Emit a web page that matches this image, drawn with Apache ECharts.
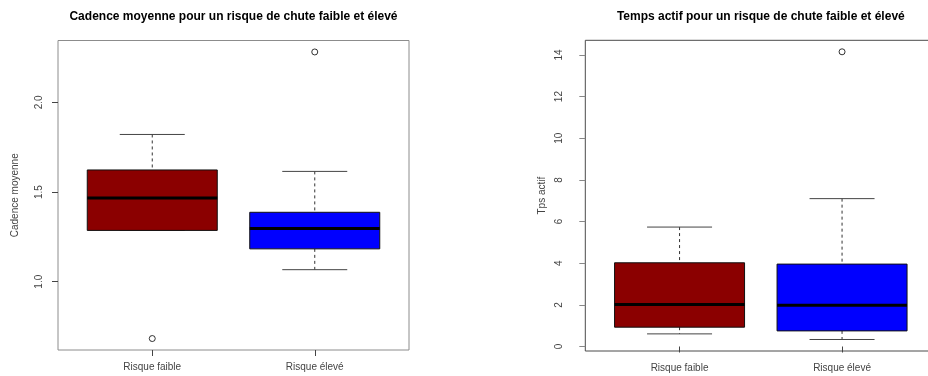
<!DOCTYPE html>
<html>
<head>
<meta charset="utf-8">
<script src="https://cdn.jsdelivr.net/npm/echarts@6/dist/echarts.min.js"></script>
<style>
html,body{margin:0;padding:0;background:#fff}
#chart{width:928px;height:376px}
</style>
</head>
<body>
<div id="chart"></div>
<script>
var categories = ['Risque faible', 'Risque élevé'];
// [x, bas, Q1, mediane, Q3, haut]
var cadenceBoxes = [
    [1, 1.286, 1.286, 1.466, 1.623, 1.821],
    [2, 1.067, 1.183, 1.297, 1.387, 1.615]
];
var cadenceOutliers = [[1, 0.683], [2, 2.281]];
var tempsBoxes = [
    [1, 0.606, 0.928, 2.02, 4.02, 5.735],
    [2, 0.337, 0.75, 1.986, 3.957, 7.10]
];
var tempsOutliers = [[2, 14.15]];
var cadenceTicks = [1.0, 1.5, 2.0];
var tempsTicks = [0, 2, 4, 6, 8, 10, 12, 14];
var boxColors = ['#8b0000', '#0000ff'];

var chart = echarts.init(document.getElementById('chart'));

// etendue a la maniere de R : +4% de chaque cote
function rRange(boxes, outliers) {
    var lo = Infinity, hi = -Infinity;
    boxes.forEach(function (b) {
        lo = Math.min(lo, b[1]); hi = Math.max(hi, b[5]);
    });
    outliers.forEach(function (o) {
        lo = Math.min(lo, o[1]); hi = Math.max(hi, o[1]);
    });
    var pad = (hi - lo) * 0.04;
    return [lo - pad, hi + pad];
}
var cadRange = rRange(cadenceBoxes, cadenceOutliers);
var tpsRange = rRange(tempsBoxes, tempsOutliers);

function renderBox(params, api) {
    var x = api.value(0);
    var low = api.coord([x, api.value(1)]);
    var q1 = api.coord([x, api.value(2)]);
    var med = api.coord([x, api.value(3)]);
    var q3 = api.coord([x, api.value(4)]);
    var high = api.coord([x, api.value(5)]);
    var w = api.size([0.8, 0])[0];
    var cx = low[0];
    var dash = {stroke: '#333', lineWidth: 1, lineDash: [3, 3]};
    var cap = {stroke: '#444', lineWidth: 1};
    return {
        type: 'group',
        children: [
            {type: 'line', shape: {x1: cx, y1: high[1], x2: cx, y2: q3[1]}, style: dash},
            {type: 'line', shape: {x1: cx, y1: q1[1], x2: cx, y2: low[1]}, style: dash},
            {type: 'line', shape: {x1: cx - w / 4, y1: high[1], x2: cx + w / 4, y2: high[1]}, style: cap},
            {type: 'line', shape: {x1: cx - w / 4, y1: low[1], x2: cx + w / 4, y2: low[1]}, style: cap},
            {type: 'rect', shape: {x: cx - w / 2, y: q3[1], width: w, height: q1[1] - q3[1]},
                style: {fill: boxColors[params.dataIndex], stroke: '#111', lineWidth: 1}},
            {type: 'line', shape: {x1: cx - w / 2, y1: med[1], x2: cx + w / 2, y2: med[1]},
                style: {stroke: '#000', lineWidth: 3}}
        ]
    };
}

function xAxisFor(idx, color) {
    return {
        gridIndex: idx,
        type: 'value',
        min: 0.42,
        max: 2.58,
        axisLine: {show: false},
        splitLine: {show: false},
        axisTick: {show: true, length: 6, customValues: [1, 2], lineStyle: {color: color}},
        axisLabel: {
            customValues: [1, 2],
            margin: 12,
            fontSize: 10,
            color: '#444',
            formatter: function (v) { return categories[Math.round(v) - 1]; }
        }
    };
}

function yAxisFor(idx, range, ticks, name, digits, labelMargin, color) {
    return {
        gridIndex: idx,
        type: 'value',
        min: range[0],
        max: range[1],
        name: name,
        nameLocation: 'middle',
        nameGap: 38,
        nameTextStyle: {fontSize: 10, color: '#444'},
        axisLine: {show: false},
        splitLine: {show: false},
        axisTick: {show: true, length: 6, customValues: ticks, lineStyle: {color: color}},
        axisLabel: {
            customValues: ticks,
            rotate: 90,
            margin: labelMargin,
            fontSize: 10,
            color: '#444',
            formatter: function (v) { return v.toFixed(digits); }
        }
    };
}

chart.setOption({
    animation: false,
    textStyle: {fontFamily: 'Liberation Sans'},
    title: [{
        text: 'Cadence moyenne pour un risque de chute faible et élevé',
        left: 233.5, top: 11, padding: 0, textAlign: 'center',
        textStyle: {fontSize: 12, fontWeight: 'bold', color: '#000'}
    }, {
        text: 'Temps actif pour un risque de chute faible et élevé',
        left: 760.8, top: 11, padding: 0, textAlign: 'center',
        textStyle: {fontSize: 12, fontWeight: 'bold', color: '#000'}
    }],
    grid: [
        {left: 58, top: 40.5, width: 351, height: 309.5, outerBoundsMode: 'none',
            show: true, borderColor: '#8c8c8c', borderWidth: 1},
        {left: 585.3, top: 40.3, width: 351, height: 310.7, outerBoundsMode: 'none',
            show: true, borderColor: '#4a4a4a', borderWidth: 1}
    ],
    xAxis: [xAxisFor(0, '#444'), xAxisFor(1, '#444')],
    yAxis: [
        yAxisFor(0, cadRange, cadenceTicks, 'Cadence moyenne', 1, 14, '#444'),
        yAxisFor(1, tpsRange, tempsTicks, 'Tps actif', 0, 21, '#888')
    ],
    series: [{
        type: 'custom',
        xAxisIndex: 0, yAxisIndex: 0,
        renderItem: renderBox,
        encode: {x: 0, y: [1, 2, 3, 4, 5]},
        data: cadenceBoxes
    }, {
        type: 'scatter',
        xAxisIndex: 0, yAxisIndex: 0,
        symbol: 'circle', symbolSize: 6,
        itemStyle: {color: 'rgba(0,0,0,0)', borderColor: '#000', borderWidth: 1},
        data: cadenceOutliers
    }, {
        type: 'custom',
        xAxisIndex: 1, yAxisIndex: 1,
        renderItem: renderBox,
        encode: {x: 0, y: [1, 2, 3, 4, 5]},
        data: tempsBoxes
    }, {
        type: 'scatter',
        xAxisIndex: 1, yAxisIndex: 1,
        symbol: 'circle', symbolSize: 6,
        itemStyle: {color: 'rgba(0,0,0,0)', borderColor: '#000', borderWidth: 1},
        data: tempsOutliers
    }]
});
</script>
</body>
</html>
